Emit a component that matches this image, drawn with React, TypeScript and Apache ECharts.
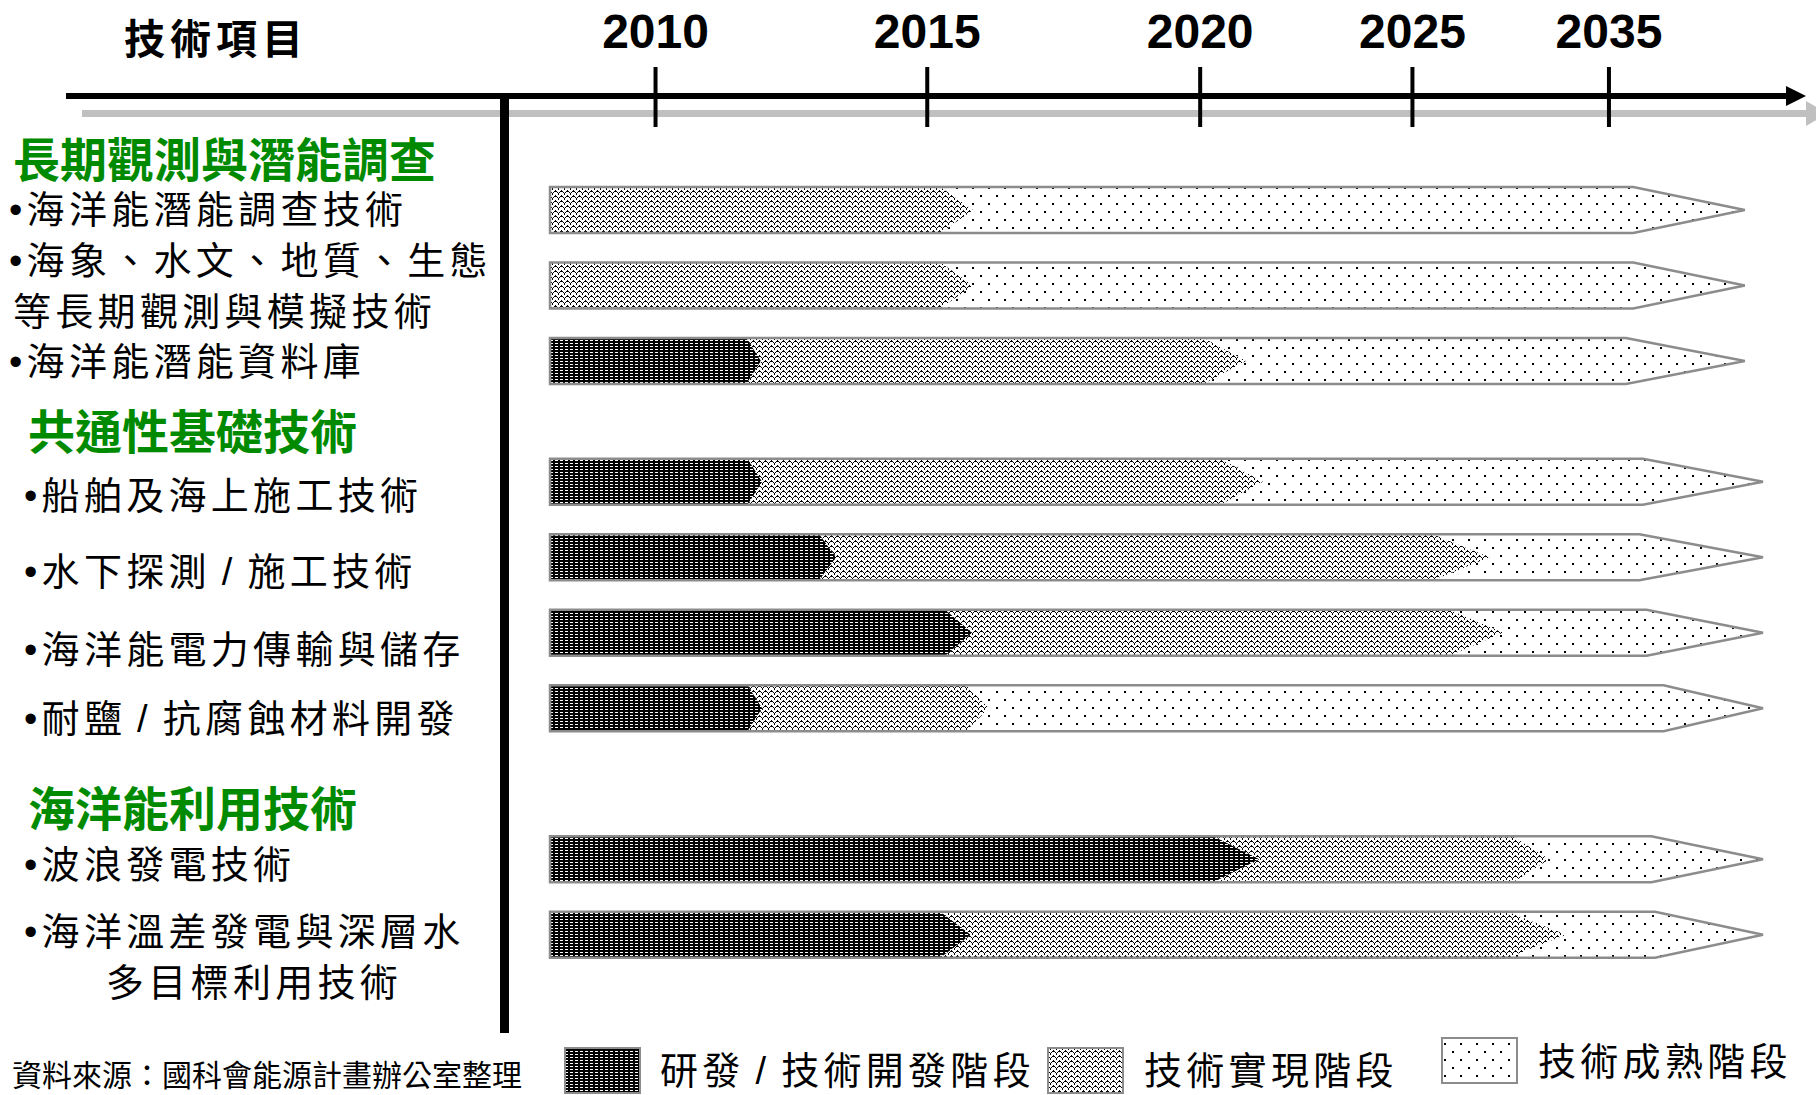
import React, { useEffect, useRef } from 'react';
import * as echarts from 'echarts';

// ---------- DATA ----------
const yearLabels = ['2010', '2015', '2020', '2025', '2035'];
// position of each year mark along the roadmap timeline (0 = start of arrows, 100 = arrow tip)
const yearPositions = [8.7, 31.1, 53.6, 71.1, 87.3];

const groupNames = ['長期觀測與潛能調查', '共通性基礎技術', '海洋能利用技術'];
const itemNames = [
  '海洋能潛能調查技術',
  '海象、水文、地質、生態等長期觀測與模擬技術',
  '海洋能潛能資料庫',
  '船舶及海上施工技術',
  '水下探測 / 施工技術',
  '海洋能電力傳輸與儲存',
  '耐鹽 / 抗腐蝕材料開發',
  '波浪發電技術',
  '海洋溫差發電與深層水多目標利用技術',
];
const itemGroup = [0, 0, 0, 1, 1, 1, 1, 2, 2];

const stageNames = ['研發 / 技術開發階段', '技術實現階段', '技術成熟階段'];
// each stage: [end of flat part, chevron tip] on the timeline
const rdStage: (number[] | null)[] = [
  null, null, [16.2, 17.4], [16.3, 17.5], [22.2, 23.6], [32.6, 34.8], [16.3, 17.5], [54.7, 58.5], [32.2, 34.7],
];
const realStage: number[][] = [
  [32.2, 34.9], [32.2, 34.9], [53.9, 57.4], [55.3, 58.8], [72.8, 77.5], [74.2, 78.6], [34.3, 36.2], [79.4, 82.4], [79.0, 83.8],
];
const matureStage: number[][] = [
  [89.3, 98.5], [89.3, 98.5], [88.7, 98.5], [90.1, 100], [89.8, 100], [90.4, 100], [91.8, 100], [90.8, 100], [91.1, 100],
];

const sourceNote = '資料來源：國科會能源計畫辦公室整理';
const headerTitle = '技術項目';

// ---------- LAYOUT ----------
const rowSlot = [0, 1, 2, 3.6, 4.6, 5.6, 6.6, 8.6, 9.6];
const labelLines: { item?: number; group?: number; text: string; bullet: boolean; x: number; y: number }[] = [
  { group: 0, text: groupNames[0], bullet: false, x: 13, y: 156 },
  { item: 0, text: '海洋能潛能調查技術', bullet: true, x: 9, y: 210 },
  { item: 1, text: '海象、水文、地質、生態', bullet: true, x: 9, y: 261 },
  { item: 1, text: '等長期觀測與模擬技術', bullet: false, x: 13, y: 312 },
  { item: 2, text: '海洋能潛能資料庫', bullet: true, x: 9, y: 362 },
  { group: 1, text: groupNames[1], bullet: false, x: 28, y: 428 },
  { item: 3, text: itemNames[3], bullet: true, x: 24, y: 496 },
  { item: 4, text: itemNames[4], bullet: true, x: 24, y: 572 },
  { item: 5, text: itemNames[5], bullet: true, x: 24, y: 650 },
  { item: 6, text: itemNames[6], bullet: true, x: 24, y: 719 },
  { group: 2, text: groupNames[2], bullet: false, x: 28, y: 805 },
  { item: 7, text: itemNames[7], bullet: true, x: 24, y: 865 },
  { item: 8, text: '海洋溫差發電與深層水', bullet: true, x: 24, y: 932 },
  { item: 8, text: '多目標利用技術', bullet: false, x: 106, y: 983 },
];

const CJK = '"Noto Sans CJK TC", "Noto Sans CJK SC", sans-serif';
const MIXED = '"Liberation Sans", "Noto Sans CJK TC", "Noto Sans CJK SC", sans-serif';
const LABEL_SPACING = 4.3;

function makePattern(w: number, h: number, draw: (ctx: CanvasRenderingContext2D) => void) {
  const c = document.createElement('canvas');
  c.width = w;
  c.height = h;
  const ctx = c.getContext('2d')!;
  draw(ctx);
  return { image: c, repeat: 'repeat', imageWidth: w, imageHeight: h } as any;
}

export default function App() {
  const ref = useRef<HTMLDivElement>(null);

  useEffect(() => {
    const el = ref.current!;
    const chart = echarts.init(el, null, { renderer: 'svg', width: 1816, height: 1095 });

    const rdPat = makePattern(5, 3, (ctx) => {
      ctx.fillStyle = '#000';
      ctx.fillRect(0, 0, 5, 3);
      ctx.fillStyle = '#fff';
      ctx.fillRect(0, 1, 3, 1);
    });
    const wavePat = makePattern(6, 5, (ctx) => {
      ctx.fillStyle = '#fff';
      ctx.fillRect(0, 0, 6, 5);
      ctx.fillStyle = '#000';
      const px = [[0, 3], [1, 2], [2, 1], [3, 0], [4, 1], [5, 2], [0, 4], [3, 1]];
      px.forEach(([x, y]) => ctx.fillRect(x, y, 1, 1));
    });
    const dotPat = makePattern(16, 16, (ctx) => {
      ctx.fillStyle = '#fff';
      ctx.fillRect(0, 0, 16, 16);
      ctx.fillStyle = '#000';
      ctx.fillRect(4, 3, 2, 2);
      ctx.fillRect(12, 11, 2, 2);
    });
    const patterns = [rdPat, wavePat, dotPat];

    const spaced = new Map<string, number>();

    const graphic: any[] = [];
    // timeline axis (decoration)
    graphic.push({ type: 'rect', z: 1, shape: { x: 82, y: 110, width: 1724, height: 7 }, style: { fill: '#c0c0c0' } });
    graphic.push({ type: 'polygon', z: 1, shape: { points: [[1806, 101], [1828, 113.5], [1806, 126]] }, style: { fill: '#c0c0c0' } });
    graphic.push({ type: 'rect', z: 1, shape: { x: 66, y: 93, width: 1724, height: 6 }, style: { fill: '#000' } });
    graphic.push({ type: 'polygon', z: 1, shape: { points: [[1786, 86], [1806, 96], [1786, 106]] }, style: { fill: '#000' } });
    graphic.push({ type: 'rect', z: 3, shape: { x: 500, y: 93, width: 9, height: 940 }, style: { fill: '#000' } });

    graphic.push({
      type: 'text', z: 5, x: 124, y: 36,
      style: { text: headerTitle, fill: '#000', font: `bold 41px ${CJK}`, textAlign: 'left', textVerticalAlign: 'middle', align: 'left', verticalAlign: 'middle' },
    });
    spaced.set(headerTitle, 5);

    labelLines.forEach((l) => {
      const isGroup = l.group != null;
      const txt = (l.bullet ? '•' : '') + l.text;
      if (!isGroup) spaced.set(txt, LABEL_SPACING);
      graphic.push({
        type: 'text', z: 5, x: l.x, y: l.y,
        style: {
          text: txt,
          fill: isGroup ? '#008a00' : '#000',
          font: isGroup ? `bold 47px ${CJK}` : `38px ${MIXED}`,
          textAlign: 'left', textVerticalAlign: 'middle', align: 'left', verticalAlign: 'middle',
        },
      });
    });

    // legend
    const legendBoxes = [
      { x: 565, y: 1048, tx: 660, ty: 1071 },
      { x: 1048, y: 1048, tx: 1144, ty: 1071 },
      { x: 1442, y: 1038, tx: 1538, ty: 1062 },
    ];
    legendBoxes.forEach((b, k) => {
      graphic.push({
        type: 'rect', z: 5, shape: { x: b.x, y: b.y, width: 75, height: 45 },
        style: { fill: patterns[k], stroke: '#8c8c8c', lineWidth: 2 },
      });
      spaced.set(stageNames[k], LABEL_SPACING);
      graphic.push({
        type: 'text', z: 5, x: b.tx, y: b.ty,
        style: { text: stageNames[k], fill: '#000', font: `38px ${MIXED}`, textAlign: 'left', textVerticalAlign: 'middle', align: 'left', verticalAlign: 'middle' },
      });
    });
    graphic.push({
      type: 'text', z: 5, x: 522, y: 1073,
      style: { text: sourceNote, fill: '#000', font: `30px ${CJK}`, textAlign: 'right', textVerticalAlign: 'middle', align: 'right', verticalAlign: 'middle' },
    });

    const option: any = {
      animation: false,
      backgroundColor: '#ffffff',
      grid: [
        { left: 550, width: 1213, top: 134.5, height: 830.5, outerBoundsMode: 'none', containLabel: false },
        { left: 550, width: 1213, top: 67, height: 60, outerBoundsMode: 'none', containLabel: false },
      ],
      xAxis: [
        { type: 'value', gridIndex: 0, min: 0, max: 100, show: false },
        { type: 'value', gridIndex: 1, min: 0, max: 100, show: false },
      ],
      yAxis: [
        { type: 'value', gridIndex: 0, min: -1, max: 10, inverse: true, show: false },
        { type: 'value', gridIndex: 1, min: 0, max: 1, show: false },
      ],
      graphic,
      series: [
        {
          type: 'custom',
          name: 'roadmap',
          xAxisIndex: 0,
          yAxisIndex: 0,
          z: 2,
          encode: { x: 0, y: 1 },
          data: itemNames.map((n, i) => ({ name: n, value: [matureStage[i][1], rowSlot[i], itemGroup[i]] })),
          renderItem: (params: any, api: any) => {
            const i = params.dataIndex;
            const slot = api.value(1);
            const yc = api.coord([0, slot])[1];
            const h = 46;
            const top = yc - h / 2;
            const bot = yc + h / 2;
            const X = (v: number) => api.coord([v, slot])[0];
            const x0 = X(0);
            const stages = [rdStage[i], realStage[i], matureStage[i]];
            const children: any[] = [];
            let pb = x0;
            let pt = x0;
            stages.forEach((s, k) => {
              if (!s) return;
              const b = X(s[0]);
              const t = X(s[1]);
              children.push({
                type: 'polygon',
                shape: { points: [[pb, top], [b, top], [t, yc], [b, bot], [pb, bot], [pt, yc]] },
                style: { fill: patterns[k], stroke: 'none' },
              });
              pb = b;
              pt = t;
            });
            const last = matureStage[i];
            children.push({
              type: 'polygon',
              shape: { points: [[x0, top], [X(last[0]), top], [X(last[1]), yc], [X(last[0]), bot], [x0, bot]] },
              style: { fill: 'none', stroke: '#8c8c8c', lineWidth: 2.5 },
            });
            return { type: 'group', children };
          },
        },
        {
          type: 'custom',
          name: 'years',
          xAxisIndex: 1,
          yAxisIndex: 1,
          z: 4,
          encode: { x: 0, y: 1 },
          data: yearPositions.map((p, i) => ({ name: yearLabels[i], value: [p, 0] })),
          renderItem: (params: any, api: any) => {
            const i = params.dataIndex;
            const p0 = api.coord([api.value(0), 0]);
            const p1 = api.coord([api.value(0), 1]);
            return {
              type: 'group',
              children: [
                { type: 'line', shape: { x1: p0[0], y1: p0[1], x2: p1[0], y2: p1[1] }, style: { stroke: '#000', lineWidth: 4 } },
                {
                  type: 'text',
                  x: p1[0],
                  y: p1[1] - 36,
                  style: {
                    text: yearLabels[i], fill: '#000',
                    font: 'bold 48px "Liberation Sans", Arial, sans-serif',
                    align: 'center', verticalAlign: 'middle', textAlign: 'center', textVerticalAlign: 'middle',
                  },
                },
              ],
            };
          },
        },
      ],
    };
    chart.setOption(option);

    // PowerPoint-like tracking of the label texts (SVG attributes on the rendered text nodes)
    const applySpacing = () => {
      el.querySelectorAll('text').forEach((t) => {
        const content = (t.textContent || '').trim();
        const ls = spaced.get(content);
        if (ls != null && t.getAttribute('letter-spacing') !== String(ls)) {
          t.setAttribute('letter-spacing', String(ls));
          if (content.indexOf(' / ') >= 0) t.setAttribute('word-spacing', '-4');
        }
      });
    };
    applySpacing();
    chart.on('finished', applySpacing);
    const timer = window.setTimeout(applySpacing, 50);

    return () => {
      window.clearTimeout(timer);
      chart.dispose();
    };
  }, []);

  return (
    <div
      ref={ref}
      style={{ position: 'fixed', left: 0, top: 0, width: 1816, height: 1095, background: '#fff' }}
    />
  );
}
